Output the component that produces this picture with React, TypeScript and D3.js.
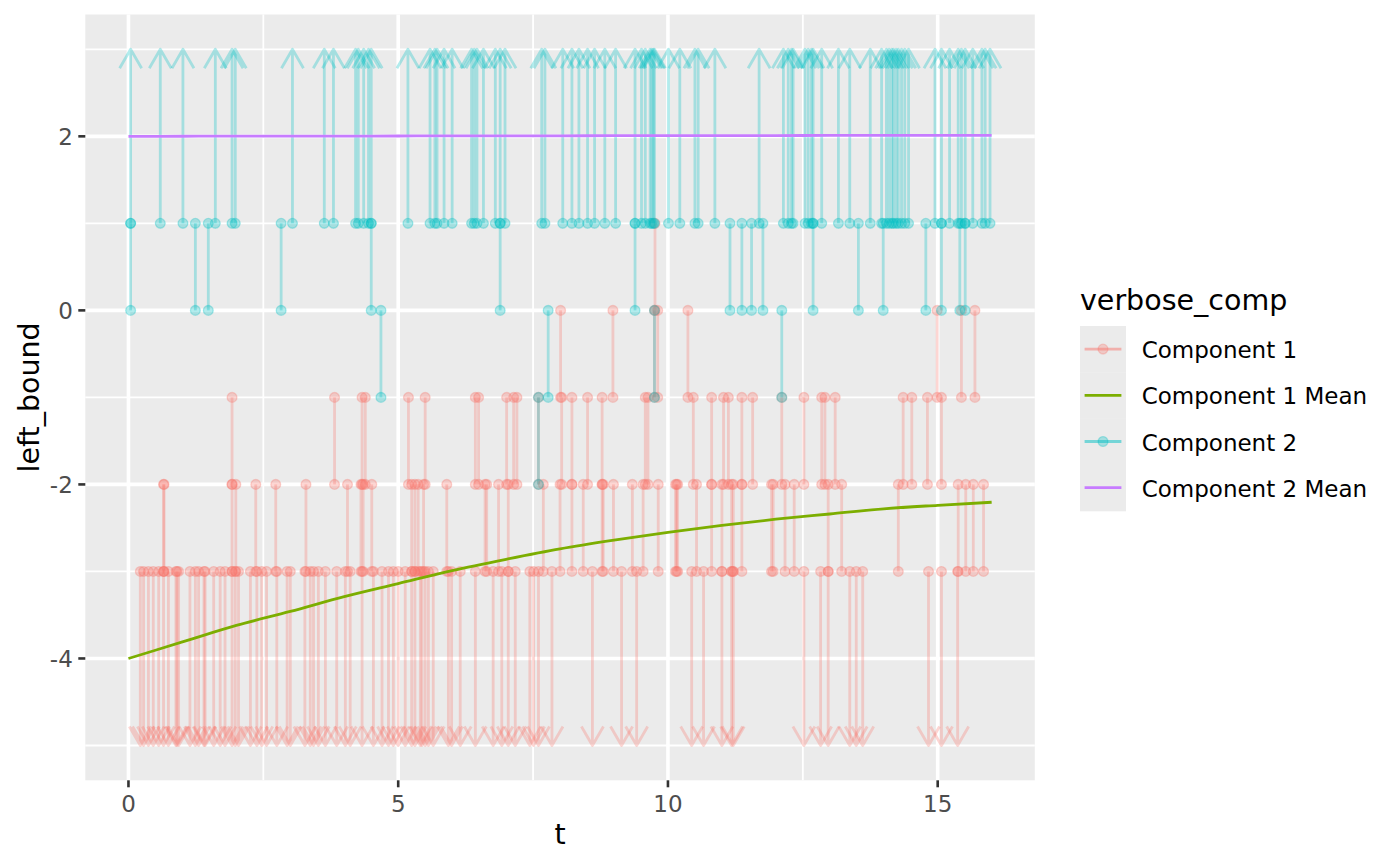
import React from "react";
import * as d3 from "d3";

// ---------- data ----------
// Component 2 observations
const c2Above1 = [0.04, 0.59, 1.01, 1.61, 1.92, 1.98, 3.04, 3.63, 3.8, 4.21, 4.26, 4.36, 4.45, 4.5, 5.18, 5.59, 5.68, 5.72, 5.85, 6.0, 6.36, 6.41, 6.46, 6.58, 6.8, 6.89, 6.98, 7.66, 7.72, 8.05, 8.22, 8.35, 8.51, 8.64, 8.83, 9.03, 9.39, 9.51, 9.58, 9.67, 9.7, 9.73, 9.75, 10.01, 10.22, 10.5, 10.56, 10.87, 11.69, 12.14, 12.23, 12.29, 12.32, 12.54, 12.6, 12.66, 12.69, 12.85, 13.16, 13.37, 13.75, 13.96, 14.05, 14.1, 14.15, 14.18, 14.23, 14.27, 14.33, 14.39, 14.46, 14.95, 15.07, 15.22, 15.38, 15.44, 15.51, 15.65, 15.82, 15.88, 15.97];
const c2Int0to1 = [0.04, 1.24, 1.48, 2.83, 4.5, 6.89, 9.39, 11.15, 11.37, 11.55, 11.76, 12.69, 13.53, 13.99, 14.78, 15.07, 15.41, 15.51];
const c2IntM1to0 = [4.68, 7.78, 9.75, 12.11];
const c2IntM2toM1 = [7.6];

// Component 1 observations
const c1BelowM3 = [0.22, 0.28, 0.37, 0.46, 0.56, 0.65, 0.74, 0.88, 0.9, 0.93, 1.14, 1.24, 1.3, 1.4, 1.42, 1.58, 1.7, 1.79, 1.92, 1.98, 2.04, 2.26, 2.38, 2.47, 2.56, 2.75, 2.94, 3.0, 3.27, 3.37, 3.43, 3.52, 3.65, 3.86, 4.02, 4.11, 4.33, 4.54, 4.7, 4.82, 4.91, 5.0, 5.13, 5.25, 5.31, 5.41, 5.44, 5.5, 5.56, 5.65, 5.93, 5.99, 6.15, 6.43, 6.76, 6.92, 7.04, 7.17, 7.44, 7.51, 7.6, 7.85, 8.6, 9.14, 9.42, 10.44, 10.66, 11.0, 11.18, 11.21, 12.52, 12.83, 12.97, 13.37, 13.49, 13.61, 14.83, 15.07, 15.37];
const c1IntM3toM2 = [0.65, 0.66, 1.92, 1.99, 2.36, 2.73, 3.29, 4.06, 4.31, 4.35, 4.51, 5.25, 5.31, 5.37, 5.47, 5.9, 6.61, 6.64, 6.86, 7.04, 7.69, 8.0, 8.22, 8.43, 8.78, 8.8, 8.99, 9.34, 9.54, 9.82, 10.14, 10.16, 10.18, 10.53, 10.81, 11.0, 11.18, 11.21, 11.37, 11.92, 11.95, 12.17, 12.34, 12.97, 13.22, 14.27, 15.38, 15.52, 15.66, 15.85];
const c1IntM2toM1 = [1.92, 3.82, 4.33, 4.39, 5.19, 5.5, 6.43, 6.49, 7.01, 7.14, 7.2, 7.6, 8.03, 8.22, 8.51, 8.78, 9.58, 9.63, 10.47, 10.81, 11.03, 11.12, 11.37, 11.57, 12.11, 12.52, 12.85, 12.91, 13.1, 14.36, 14.52, 14.81, 15.07];
const c1IntM1to0 = [8.01, 8.98, 9.75, 9.81, 10.37, 14.99, 15.44, 15.69];
const c1Int0to1 = [9.76];

// Component means
const meanT = [0, 1, 2, 3, 4, 5, 6, 7, 8, 9, 10, 11, 12, 13, 14, 15, 16];
const comp1Mean = [-4.0, -3.81, -3.62, -3.46, -3.29, -3.14, -2.99, -2.86, -2.74, -2.64, -2.55, -2.47, -2.4, -2.34, -2.28, -2.24, -2.205];
const comp2Mean = [2.0, 2.001, 2.002, 2.002, 2.003, 2.004, 2.005, 2.005, 2.006, 2.007, 2.008, 2.008, 2.009, 2.01, 2.011, 2.011, 2.012];

const xMajor = [0, 5, 10, 15];
const xMinor = [2.5, 7.5, 12.5];
const yMajor = [-4, -2, 0, 2];
const yMinor = [-5, -3, -1, 1, 3];

const legendLabels = ["Component 1", "Component 1 Mean", "Component 2", "Component 2 Mean"];

// ---------- styling ----------
const COL1 = "#F8766D";
const COLM1 = "#7CAE00";
const COL2 = "#00BFC4";
const COLM2 = "#C77CFF";
const ALPHA = 0.3;
const FONT = "DejaVu Sans, Verdana, sans-serif";

const W = 1400;
const H = 865;
const P = { left: 85.3, right: 1034.8, top: 14.5, bottom: 780.3 };

const LOW = -5;
const HIGH = 3;

type Obs = { t: number; lo: number; hi: number; col: string };

function build(): Obs[] {
  const out: Obs[] = [];
  const add = (arr: number[], lo: number, hi: number, col: string) =>
    arr.forEach((t) => out.push({ t, lo, hi, col }));
  add(c1BelowM3, -Infinity, -3, COL1);
  add(c1IntM3toM2, -3, -2, COL1);
  add(c1IntM2toM1, -2, -1, COL1);
  add(c1IntM1to0, -1, 0, COL1);
  add(c1Int0to1, 0, 1, COL1);
  add(c2Above1, 1, Infinity, COL2);
  add(c2Int0to1, 0, 1, COL2);
  add(c2IntM1to0, -1, 0, COL2);
  add(c2IntM2toM1, -2, -1, COL2);
  return out;
}

export default function App() {
  const x = d3.scaleLinear().domain([-0.8, 16.8]).range([P.left, P.right]);
  const y = d3.scaleLinear().domain([-5.4, 3.4]).range([P.bottom, P.top]);
  const obs = build();

  const AH = 19; // arrow head height
  const AW = 11; // arrow head half width

  const segPath = (o: Obs) => {
    const xx = x(o.t);
    const y0 = y(Math.max(o.lo, LOW));
    const y1 = y(Math.min(o.hi, HIGH));
    let d = `M${xx},${y0}L${xx},${y1}`;
    if (o.hi === Infinity) {
      d += `M${xx - AW},${y1 + AH}L${xx},${y1}L${xx + AW},${y1 + AH}`;
    }
    if (o.lo === -Infinity) {
      d += `M${xx - AW},${y0 - AH}L${xx},${y0}L${xx + AW},${y0 - AH}`;
    }
    return d;
  };

  const pts: { t: number; v: number; col: string }[] = [];
  obs.forEach((o) => {
    if (isFinite(o.lo)) pts.push({ t: o.t, v: o.lo, col: o.col });
    if (isFinite(o.hi)) pts.push({ t: o.t, v: o.hi, col: o.col });
  });

  const line = d3
    .line<number>()
    .x((_, i) => x(meanT[i]))
    .y((d) => y(d))
    .curve(d3.curveMonotoneX);

  const legX = 1080;
  const legTop = 326;
  const keyH = 46.2;
  const keyW = 46;

  return (
    <svg
      width={W}
      height={H}
      style={{ position: "absolute", left: 0, top: 0, background: "white" }}
      fontFamily={FONT}
    >
      <rect x={0} y={0} width={W} height={H} fill="white" />
      <rect x={P.left} y={P.top} width={P.right - P.left} height={P.bottom - P.top} fill="#EBEBEB" />
      {/* grid */}
      {xMinor.map((v) => (
        <line key={"xm" + v} x1={x(v)} x2={x(v)} y1={P.top} y2={P.bottom} stroke="white" strokeWidth={1.8} />
      ))}
      {yMinor.map((v) => (
        <line key={"ym" + v} x1={P.left} x2={P.right} y1={y(v)} y2={y(v)} stroke="white" strokeWidth={1.8} />
      ))}
      {xMajor.map((v) => (
        <line key={"xM" + v} x1={x(v)} x2={x(v)} y1={P.top} y2={P.bottom} stroke="white" strokeWidth={3.6} />
      ))}
      {yMajor.map((v) => (
        <line key={"yM" + v} x1={P.left} x2={P.right} y1={y(v)} y2={y(v)} stroke="white" strokeWidth={3.6} />
      ))}

      {/* segments */}
      <g fill="none" strokeWidth={2.8} strokeLinejoin="round">
        {obs.map((o, i) => (
          <path key={"s" + i} d={segPath(o)} stroke={o.col} strokeOpacity={ALPHA} />
        ))}
      </g>
      {/* points: filled circle plus border, both translucent (like ggplot shape 19) */}
      <g>
        {pts.map((p, i) => (
          <g key={"p" + i}>
            <circle cx={x(p.t)} cy={y(p.v)} r={4.9} fill={p.col} fillOpacity={ALPHA} />
            <circle cx={x(p.t)} cy={y(p.v)} r={4.9} fill="none" stroke={p.col} strokeOpacity={ALPHA} strokeWidth={1.3} />
          </g>
        ))}
      </g>
      {/* means */}
      <path d={line(comp1Mean) || ""} fill="none" stroke={COLM1} strokeWidth={2.8} />
      <path d={line(comp2Mean) || ""} fill="none" stroke={COLM2} strokeWidth={2.8} />

      {/* axes */}
      {xMajor.map((v) => (
        <g key={"xt" + v}>
          <line x1={x(v)} x2={x(v)} y1={P.bottom} y2={P.bottom + 7} stroke="#333333" strokeWidth={2.6} />
          <text x={x(v)} y={812} textAnchor="middle" fontSize={23} fill="#4D4D4D">
            {String(v)}
          </text>
        </g>
      ))}
      {yMajor.map((v) => (
        <g key={"yt" + v}>
          <line x1={P.left - 7} x2={P.left} y1={y(v)} y2={y(v)} stroke="#333333" strokeWidth={2.6} />
          <text x={P.left - 12.5} y={y(v) + 8.4} textAnchor="end" fontSize={23} fill="#4D4D4D">
            {String(v)}
          </text>
        </g>
      ))}
      <text x={(P.left + P.right) / 2} y={844} textAnchor="middle" fontSize={28.5} fill="black">
        t
      </text>
      <text
        transform={`translate(39,${(P.top + P.bottom) / 2}) rotate(-90)`}
        textAnchor="middle"
        fontSize={28.5}
        fill="black"
      >
        left_bound
      </text>

      {/* legend */}
      <text x={legX} y={310} fontSize={28.5} fill="black">
        verbose_comp
      </text>
      {legendLabels.map((lab, i) => {
        const cy = legTop + keyH * i + keyH / 2;
        const isMean = i === 1 || i === 3;
        const col = [COL1, COLM1, COL2, COLM2][i];
        return (
          <g key={"lg" + i}>
            <rect x={legX} y={legTop + keyH * i} width={keyW} height={keyH + 0.5} fill="#EBEBEB" />
            <line
              x1={legX + keyW * 0.1}
              x2={legX + keyW * 0.9}
              y1={cy}
              y2={cy}
              stroke={col}
              strokeOpacity={isMean ? 1 : 0.5}
              strokeWidth={2.8}
            />
            {!isMean && (
              <g>
                <circle cx={legX + keyW / 2} cy={cy} r={4.9} fill={col} fillOpacity={ALPHA} />
                <circle cx={legX + keyW / 2} cy={cy} r={4.9} fill="none" stroke={col} strokeOpacity={ALPHA} strokeWidth={1.3} />
              </g>
            )}
            <text x={1141.7} y={cy + 9} fontSize={23} fill="black">
              {lab}
            </text>
          </g>
        );
      })}
    </svg>
  );
}
